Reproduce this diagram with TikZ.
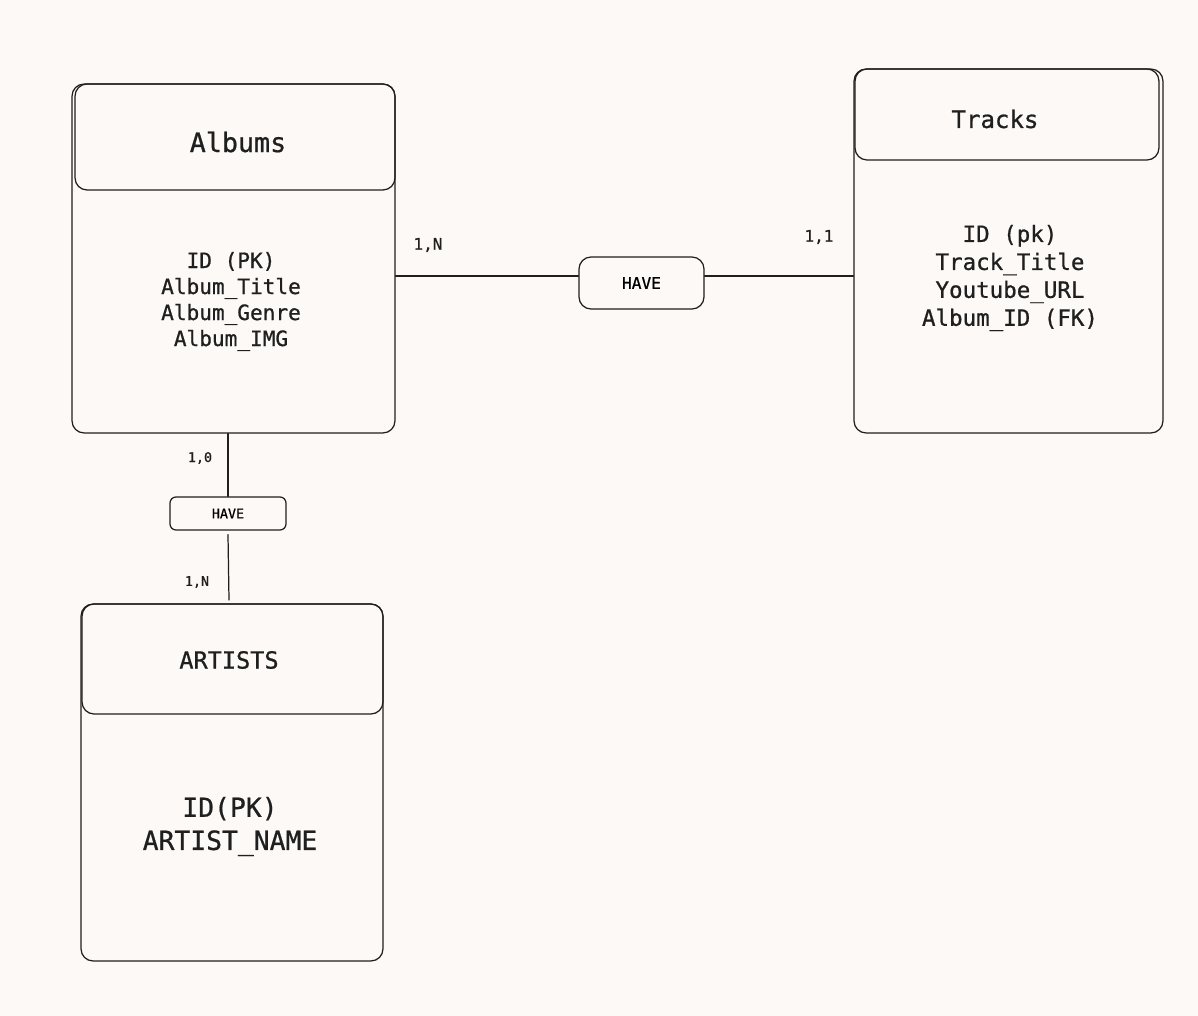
\documentclass[tikz,border=0pt]{standalone}
\usepackage{fontspec}
\setmonofont{DejaVu Sans Mono}[FakeBold=0.8]
\definecolor{paperbg}{rgb}{0.988,0.976,0.965}
\definecolor{inkdark}{rgb}{0.12,0.12,0.12}
\tikzset{
  entbox/.style={draw=inkdark,line width=0.7pt,rounded corners=0.24cm,inner sep=0pt},
  relbox/.style={draw=inkdark,line width=0.7pt,inner sep=0pt,font=\ttfamily\fontsize{9.2}{11}\selectfont},
  link/.style={draw=inkdark,line width=0.7pt},
  txt/.style={text=inkdark,inner sep=0pt,align=center,font=\ttfamily},
  card/.style={txt,font=\ttfamily\fontsize{9.1}{11}\selectfont}
}
\begin{document}
\begin{tikzpicture}[line cap=round,line join=round,x=0.02cm,y=-0.02cm]
		\fill[paperbg] (0,0) rectangle (1198,1016);
		\useasboundingbox (0,0) rectangle (1198,1016);
		% entities
		\node[entbox,minimum width=6.46cm,minimum height=6.98cm] (albums) at (233.5,258.5) {};
		\node[entbox,minimum width=6.40cm,minimum height=2.12cm] (albumsH) at (235,137) {};
		\node[entbox,minimum width=6.18cm,minimum height=7.28cm] (tracks) at (1008.5,251) {};
		\node[entbox,minimum width=6.08cm,minimum height=1.82cm] (tracksH) at (1007,114.5) {};
		\node[entbox,minimum width=6.04cm,minimum height=7.14cm] (artists) at (232,782.5) {};
		\node[entbox,minimum width=6.02cm,minimum height=2.20cm] (artistsH) at (232.5,659) {};
		% titles and attributes
		\node[txt,font=\ttfamily\fontsize{15.2}{18}\selectfont] (albumsT) at (238,142) {Albums};
		\node[txt,font=\ttfamily\fontsize{12}{14.8}\selectfont] (albumsA) at (231,301.5) {ID (PK)\\Album\_Title\\Album\_Genre\\Album\_IMG};
		\node[txt,font=\ttfamily\fontsize{13.7}{16}\selectfont] (tracksT) at (995,119) {Tracks};
		\node[txt,font=\ttfamily\fontsize{12.8}{15.9}\selectfont] (tracksA) at (1010,278) {ID (pk)\\Track\_Title\\Youtube\_URL\\Album\_ID (FK)};
		\node[txt,font=\ttfamily\fontsize{13.4}{16}\selectfont] (artistsT) at (229,660) {ARTISTS};
		\node[txt,font=\ttfamily\fontsize{15}{18.8}\selectfont] (artistsA) at (230,826.5) {ID(PK)\\ARTIST\_NAME};
		% relations
		\node[relbox,rounded corners=0.24cm,minimum width=2.5cm,minimum height=1.04cm] (have1) at (641.5,283) {HAVE};
		\node[relbox,rounded corners=0.12cm,minimum width=2.32cm,minimum height=0.66cm,font=\ttfamily\fontsize{7.6}{9}\selectfont] (have2) at (228,513.5) {HAVE};
		% connectors
		\coordinate (linkY) at (0,276);
		\coordinate (artTop) at (229,600);
		\draw[link] (albums.east |- linkY) -- (have1.west |- linkY);
		\draw[link] (have1.east |- linkY) -- (tracks.west |- linkY);
		\draw[link] (have2.north |- albums.south) -- (have2.north);
		\draw[link] ([yshift=-0.08cm]have2.south) -- (artTop);
		% cardinalities
		\node[card] (c1) at (428,245) {1,N};
		\node[card] (c2) at (819,237) {1,1};
		\node[card,font=\ttfamily\fontsize{7.6}{9}\selectfont] (c3) at (200,458) {1,0};
		\node[card,font=\ttfamily\fontsize{7.6}{9}\selectfont] (c4) at (197,582) {1,N};
	\end{tikzpicture}
\end{document}
